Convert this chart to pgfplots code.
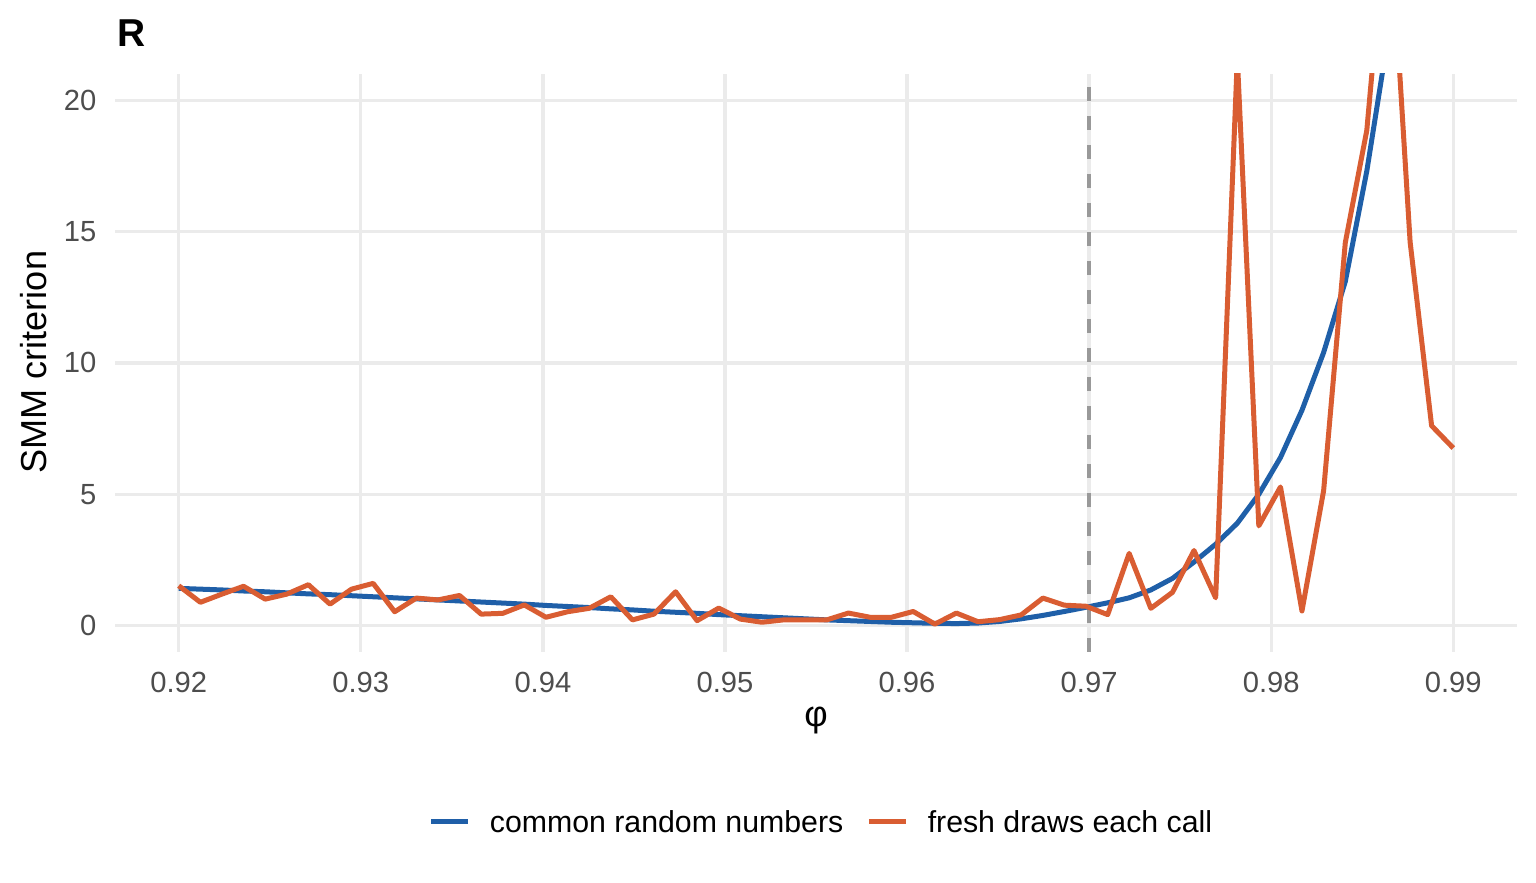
\documentclass[border=0pt]{standalone}
\usepackage{fontspec}
\setmainfont{Liberation Sans}
\usepackage{pgfplots}
\usepackage{pgfplotstable}
\pgfplotsset{compat=1.18}
\definecolor{crn}{HTML}{1F5FA8}
\definecolor{fresh}{HTML}{D95D32}
\definecolor{gridc}{HTML}{EBEBEB}
\definecolor{tickc}{HTML}{4D4D4D}
\definecolor{vlinec}{HTML}{999999}

\pgfplotstableread{
phi crn fresh
0.92000 1.42 1.52
0.92119 1.39 0.89
0.92237 1.36 1.20
0.92356 1.32 1.50
0.92475 1.29 1.01
0.92593 1.25 1.20
0.92712 1.21 1.56
0.92831 1.18 0.82
0.92949 1.14 1.39
0.93068 1.10 1.61
0.93186 1.06 0.53
0.93305 1.02 1.05
0.93424 0.98 0.98
0.93542 0.94 1.15
0.93661 0.90 0.44
0.93780 0.86 0.47
0.93898 0.82 0.79
0.94017 0.77 0.32
0.94136 0.73 0.53
0.94254 0.69 0.66
0.94373 0.64 1.10
0.94492 0.60 0.22
0.94610 0.55 0.44
0.94729 0.51 1.29
0.94847 0.47 0.19
0.94966 0.42 0.67
0.95085 0.38 0.25
0.95203 0.34 0.13
0.95322 0.30 0.22
0.95441 0.26 0.22
0.95559 0.22 0.22
0.95678 0.19 0.48
0.95797 0.16 0.32
0.95915 0.13 0.32
0.96034 0.11 0.54
0.96153 0.09 0.06
0.96271 0.08 0.48
0.96390 0.10 0.15
0.96508 0.16 0.23
0.96627 0.26 0.41
0.96746 0.39 1.05
0.96864 0.54 0.78
0.96983 0.70 0.74
0.97102 0.87 0.42
0.97220 1.06 2.75
0.97339 1.36 0.66
0.97458 1.80 1.27
0.97576 2.42 2.86
0.97695 3.10 1.06
0.97814 3.90 21.6
0.97932 5.00 3.80
0.98051 6.40 5.28
0.98169 8.20 0.56
0.98288 10.40 5.14
0.98407 13.10 14.58
0.98525 17.30 18.85
0.98644 22.50 28.0
0.98763 29.00 14.6
0.98881 37.00 7.61
0.99000 47.00 6.76
}\smmdata

\begin{document}
\begin{tikzpicture}
\path[use as bounding box] (-41.4pt,-83.88pt) rectangle (511.56pt,234pt);
\begin{axis}[
  at={(0pt,-0.7pt)}, anchor=south west,
  scale only axis, width=504.72pt, height=208.08pt,
  xmin=0.9165, xmax=0.9935, ymin=-1, ymax=21,
  axis line style={draw=none},
  major tick length=0pt,
  tick style={draw=none},
  scaled x ticks=false, scaled y ticks=false,
  xtick={0.92,0.93,0.94,0.95,0.96,0.97,0.98,0.99},
  xticklabels={0.92,0.93,0.94,0.95,0.96,0.97,0.98,0.99},
  ytick={0,5,10,15,20},
  yticklabels={0,5,10,15,20},
  grid=major,
  major grid style={color=gridc, line width=1.2pt},
  xticklabel style={font=\fontsize{10.5}{12}\selectfont, text=tickc, anchor=north, inner sep=0pt, yshift=-7.2pt},
  yticklabel style={font=\fontsize{10.5}{12}\selectfont, text=tickc, anchor=east, inner sep=0pt, xshift=-6.5pt},
  legend columns=2,
  legend style={at={(axis description cs:0.2072,-0.2942)}, anchor=west,
    draw=none, fill=none, inner sep=0pt, outer sep=0pt,
    font=\fontsize{10.9}{12}\selectfont,
    column sep=0pt,
    cells={anchor=west}, nodes={inner sep=0pt, text depth=0pt},
    /tikz/every odd column/.append style={column sep=0pt},
    /tikz/every even column/.append style={column sep=0pt}},
  legend image code/.code={\path[draw=none, fill=none] (-9.2pt,-5pt) rectangle (21.2pt,5pt);\draw[#1, line width=1.8pt, line cap=butt] (0pt,0.2pt) -- (13.3pt,0.2pt);},
  clip=true,
]
\addplot[vlinec, line width=1.5pt, dash pattern=on 5.04pt off 5.4pt, forget plot] coordinates {(0.97,-1) (0.97,21)};
\addplot[crn, line width=1.8pt, line join=round] table[x=phi, y=crn] {\smmdata};
\addlegendentry{common random numbers}
\addplot[fresh, line width=1.8pt, line join=round] table[x=phi, y=fresh] {\smmdata};
\addlegendentry{fresh draws each call}
\end{axis}
\node[anchor=base west, inner sep=0pt, font=\fontsize{14}{16}\selectfont\bfseries] at (0.7pt,217.2pt) {R};
\node[anchor=base, inner sep=0pt, font=\fontsize{13}{15}\selectfont] at (252.36pt,-27.4pt) {φ};
\node[anchor=base, rotate=90, inner sep=0pt, font=\fontsize{13}{15}\selectfont] at (-24.6pt,103.6pt) {SMM criterion};
\end{tikzpicture}
\end{document}
